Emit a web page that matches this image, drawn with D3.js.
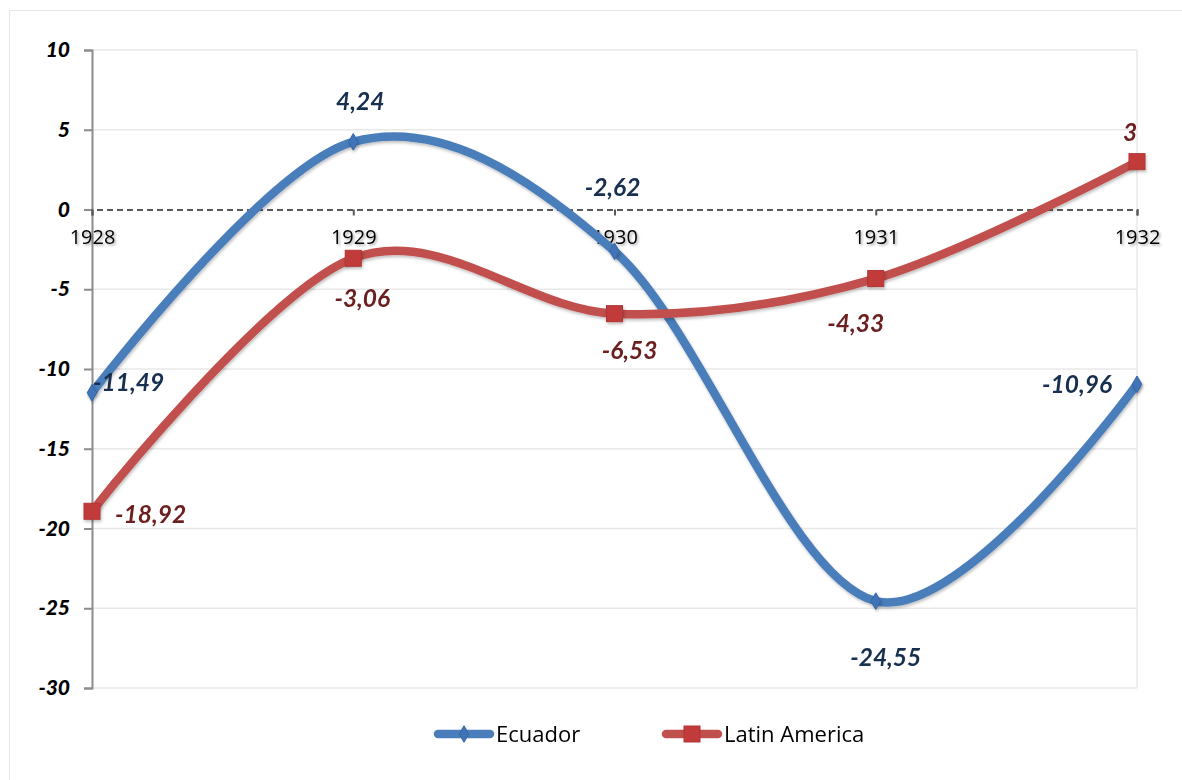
<!DOCTYPE html>
<html><head><meta charset="utf-8">
<script src="https://cdn.jsdelivr.net/npm/d3@7"></script>
<style>body{margin:0;background:#fff}svg{display:block}</style>
</head><body><svg id="c" width="1182" height="780"></svg>
<script>
const years = ["1928","1929","1930","1931","1932"];
const ecuador = [-11.49, 4.24, -2.62, -24.55, -10.96];
const latinAmerica = [-18.92, -3.06, -6.53, -4.33, 3];
const yTicks = [10, 5, 0, -5, -10, -15, -20, -25, -30];
const seriesNames = ["Ecuador", "Latin America"];

const svg = d3.select("#c");
const defs = svg.append("defs");
const sh = defs.append("filter").attr("id","ts").attr("x","-20%").attr("y","-20%").attr("width","140%").attr("height","160%");
sh.append("feDropShadow").attr("dx",1.5).attr("dy",1.5).attr("stdDeviation",1).attr("flood-color","#000").attr("flood-opacity",0.35);
const ls = defs.append("filter").attr("id","ls").attr("x","-10%").attr("y","-10%").attr("width","120%").attr("height","130%");
ls.append("feDropShadow").attr("dx",1).attr("dy",2).attr("stdDeviation",1.5).attr("flood-color","#000").attr("flood-opacity",0.25);

svg.append("rect").attr("x",9.5).attr("y",10.5).attr("width",1190).attr("height",790)
  .attr("fill","none").attr("stroke","#e6e6e6");

const x = d3.scalePoint().domain(years).range([92,1137]);
const y = d3.scaleLinear().domain([-30,10]).range([688,50]);

// gridlines
svg.append("g").selectAll("line").data(yTicks.filter(d=>d!==0)).join("line")
  .attr("x1",92).attr("x2",1137).attr("y1",d=>y(d)).attr("y2",d=>y(d))
  .attr("stroke","#e8e8e8").attr("stroke-width",1.5);
svg.append("line").attr("x1",1137).attr("x2",1137).attr("y1",y(10)).attr("y2",y(-30))
  .attr("stroke","#e8e8e8").attr("stroke-width",1.5);

// y axis
const ya = svg.append("g").attr("transform","translate(92,0)")
  .call(d3.axisLeft(y).tickValues(yTicks).tickSize(8).tickPadding(14).tickFormat(d=>String(d)));
ya.select(".domain").attr("stroke","#8c8c8c").attr("stroke-width",2);
ya.selectAll(".tick line").attr("stroke","#8c8c8c").attr("stroke-width",2);
ya.selectAll(".tick text").attr("font-family","Lato, 'Open Sans', sans-serif").attr("font-size",21)
  .attr("font-weight","900").attr("font-style","italic").attr("fill","#000");

// zero axis
const xa = svg.append("g").attr("transform",`translate(0,${y(0)})`)
  .call(d3.axisBottom(x).tickSize(6).tickPadding(14));
xa.select(".domain").attr("stroke","#595959").attr("stroke-width",2).attr("stroke-dasharray","6,4");
xa.selectAll(".tick line").attr("stroke","#595959").attr("stroke-width",2);
xa.selectAll(".tick text").attr("font-family","'Open Sans', sans-serif").attr("font-size",20)
  .attr("fill","#000").attr("filter","url(#ts)");

const line = d3.line().x((d,i)=>x(years[i])).y(d=>y(d)).curve(d3.curveCardinal.tension(0));
const series = [
  {name:seriesNames[0], values:ecuador, color:"#4a7ebb", label:"#17304f", marker:"diamond"},
  {name:seriesNames[1], values:latinAmerica, color:"#c0504d", label:"#6b1f1f", marker:"square"}
];
series.forEach(s=>{
  svg.append("path").attr("d",line(s.values)).attr("fill","none").attr("stroke",s.color)
    .attr("stroke-width",8.5).attr("stroke-linecap","round").attr("filter","url(#ls)");
});
function marker(g, s, cx, cy){
  if(s.marker==="diamond"){
    g.append("path").attr("d",d3.symbol(d3.symbolDiamond,80)()).attr("transform",`translate(${cx},${cy})`)
      .attr("fill","#3f73b8").attr("stroke","#3566a6").attr("stroke-width",1);
  } else {
    g.append("rect").attr("x",cx-8).attr("y",cy-8).attr("width",16).attr("height",16)
      .attr("fill","#c23b3b").attr("stroke","#b03535").attr("stroke-width",1);
  }
}
series.forEach(s=>{
  const g = svg.append("g").attr("filter","url(#ls)");
  s.values.forEach((v,i)=>marker(g,s,x(years[i]),y(v)));
});

// data labels
const fmt = v => String(v).replace(".",",");
const ecOff = [[1,-10,"start"],[7,-40,"middle"],[-2,-64,"middle"],[10,56,"middle"],[-25,0,"end"]];
const laOff = [[23,3,"start"],[9,40,"middle"],[15,37,"middle"],[-20,45,"middle"],[-7,-29,"middle"]];
[[ecuador,ecOff,series[0].label],[latinAmerica,laOff,series[1].label]].forEach(([vals,offs,col])=>{
  svg.append("g").selectAll("text").data(vals).join("text")
    .attr("x",(d,i)=>x(years[i])+offs[i][0]).attr("y",(d,i)=>y(d)+offs[i][1])
    .attr("dy","0.35em").attr("text-anchor",(d,i)=>offs[i][2])
    .attr("font-family","Lato, 'Open Sans', sans-serif").attr("font-size",24.5)
    .attr("font-weight","bold").attr("font-style","italic").attr("fill",col)
    .text(d=>fmt(d));
});

// legend
const leg = [{s:series[0], x0:434},{s:series[1], x0:662}];
leg.forEach(l=>{
  const g = svg.append("g");
  g.append("line").attr("x1",l.x0+4).attr("x2",l.x0+56).attr("y1",734).attr("y2",734)
    .attr("stroke",l.s.color).attr("stroke-width",8.5).attr("stroke-linecap","round");
  marker(g,l.s,l.x0+30,734);
  g.append("text").attr("x",l.x0+62).attr("y",734).attr("dy","0.35em")
    .attr("font-family","'Open Sans', sans-serif").attr("font-size",22).attr("fill","#000")
    .text(l.s.name);
});
</script></body></html>
